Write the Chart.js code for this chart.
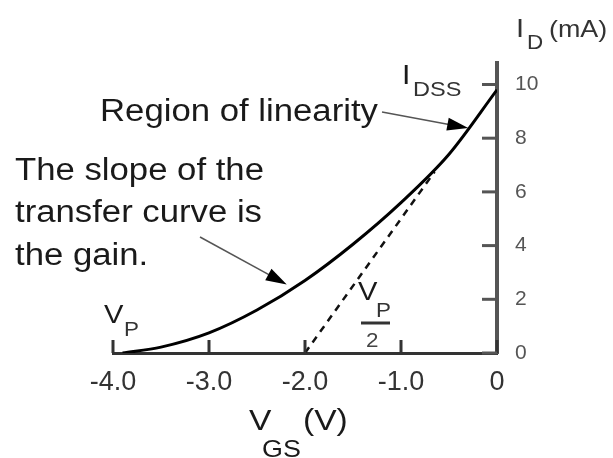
<!DOCTYPE html>
<html>
<head>
<meta charset="utf-8">
<script src="https://cdn.jsdelivr.net/npm/chart.js@4.4.1/dist/chart.umd.min.js"></script>
<style>
  html, body { margin: 0; padding: 0; background: #fff; }
  #wrap { width: 613px; height: 458px; }
</style>
</head>
<body>
<div id="wrap"><canvas id="transfer" width="613" height="458"></canvas></div>
<script>
// transfer curve: gate-source voltage (V) against drain current (mA)
const vgs  = [-3.9, -3.5, -3.0, -2.5, -2.0, -1.5, -1.0, -0.5, 0];
const idMa = [0, 0.22, 0.75, 1.6, 2.7, 4.05, 5.6, 7.4, 9.8];

// dashed tangent starting at VP/2
const tangentV = [-2.0, -0.65];
const tangentI = [0, 6.75];

// axis ticks
const xTicks = [-4, -3, -2, -1, 0];
const xTickLabels = ["-4.0", "-3.0", "-2.0", "-1.0", "0"];
const yTicks = [0, 2, 4, 6, 8, 10];

const FONT = '"Liberation Sans", Arial, Helvetica, sans-serif';
const STRETCH = 1.12;

function text(ctx, str, x, y, size, color) {
    ctx.save();
    ctx.font = size + "px " + FONT;
    ctx.fillStyle = color || "#1a1a1a";
    ctx.textBaseline = "alphabetic";
    ctx.textAlign = "left";
    ctx.translate(x, y);
    ctx.scale(STRETCH, 1);
    ctx.fillText(str, 0, 0);
    ctx.restore();
}

function arrow(ctx, x1, y1, x2, y2) {
    const ang = Math.atan2(y2 - y1, x2 - x1);
    const len = 21, half = 6.5;
    ctx.save();
    ctx.strokeStyle = "#555";
    ctx.lineWidth = 1.5;
    ctx.beginPath();
    ctx.moveTo(x1, y1);
    ctx.lineTo(x2 - Math.cos(ang) * len * 0.8, y2 - Math.sin(ang) * len * 0.8);
    ctx.stroke();
    ctx.fillStyle = "#000";
    ctx.beginPath();
    ctx.moveTo(x2, y2);
    ctx.lineTo(x2 - Math.cos(ang) * len - Math.sin(ang) * half, y2 - Math.sin(ang) * len + Math.cos(ang) * half);
    ctx.lineTo(x2 - Math.cos(ang) * len + Math.sin(ang) * half, y2 - Math.sin(ang) * len - Math.cos(ang) * half);
    ctx.closePath();
    ctx.fill();
    ctx.restore();
}

// inward tick marks plus all the labels around the plot
const decorations = {
    id: "decorations",
    afterDraw(chart) {
        const ctx = chart.ctx;
        const xs = chart.scales.x, ys = chart.scales.y;
        const area = chart.chartArea;

        ctx.save();
        ctx.lineWidth = 3;
        ctx.strokeStyle = "#333";
        xTicks.forEach(v => {
            const px = xs.getPixelForValue(v);
            ctx.beginPath();
            ctx.moveTo(px, area.bottom);
            ctx.lineTo(px, area.bottom - 13);
            ctx.stroke();
        });
        ctx.strokeStyle = "#555";
        yTicks.forEach(v => {
            const py = ys.getPixelForValue(v);
            ctx.beginPath();
            ctx.moveTo(area.right, py);
            ctx.lineTo(area.right - 15, py);
            ctx.stroke();
        });
        ctx.restore();

        // axis titles
        text(ctx, "I", 516, 37, 26, "#333");
        text(ctx, "D", 527, 49, 20, "#333");
        text(ctx, "(mA)", 549, 37, 24, "#333");
        text(ctx, "V", 249, 430, 30);
        text(ctx, "GS", 262, 457, 24);
        text(ctx, "(V)", 303, 430, 30);

        // IDSS and VP markers
        text(ctx, "I", 402, 84, 27);
        text(ctx, "DSS", 413, 96, 21, "#333");
        text(ctx, "V", 104, 323, 26);
        text(ctx, "P", 124, 336, 20, "#333");
        text(ctx, "V", 358, 300, 26);
        text(ctx, "P", 376, 317, 20, "#333");
        ctx.save();
        ctx.strokeStyle = "#333";
        ctx.lineWidth = 3;
        ctx.beginPath();
        ctx.moveTo(361, 323);
        ctx.lineTo(390, 323);
        ctx.stroke();
        ctx.restore();
        text(ctx, "2", 366, 347, 20, "#444");

        // callouts
        text(ctx, "Region of linearity", 100, 121, 31);
        arrow(ctx, 382, 112, xs.getPixelForValue(-0.3), ys.getPixelForValue(8.38));
        text(ctx, "The slope of the", 15, 180, 31);
        text(ctx, "transfer curve is", 15, 222, 31);
        text(ctx, "the gain.", 15, 265, 31);
        arrow(ctx, 200, 237, xs.getPixelForValue(-2.19), ys.getPixelForValue(2.55));
    }
};

new Chart(document.getElementById("transfer"), {
    type: "scatter",
    data: {
        datasets: [
            {
                data: vgs.map((v, i) => ({ x: v, y: idMa[i] })),
                showLine: true,
                borderColor: "#000",
                borderWidth: 3,
                pointRadius: 0,
                cubicInterpolationMode: "monotone"
            },
            {
                data: tangentV.map((v, i) => ({ x: v, y: tangentI[i] })),
                showLine: true,
                borderColor: "#111",
                borderWidth: 2.5,
                borderDash: [7, 6],
                pointRadius: 0
            }
        ]
    },
    options: {
        responsive: false,
        animation: false,
        layout: { padding: { left: 113, top: 63, right: 0, bottom: 0 } },
        plugins: { legend: { display: false }, tooltip: { enabled: false } },
        scales: {
            x: {
                type: "linear",
                position: "bottom",
                min: -4,
                max: 0,
                afterBuildTicks: s => { s.ticks = xTicks.map(v => ({ value: v })); },
                afterFit: s => { s.height = 105; },
                ticks: {
                    padding: 13,
                    color: "#333",
                    font: { family: FONT, size: 27 },
                    callback: (v, i) => xTickLabels[i]
                },
                grid: { drawOnChartArea: false, drawTicks: false },
                border: { color: "#333", width: 3 }
            },
            y: {
                type: "linear",
                position: "right",
                min: 0,
                max: 10.8,
                afterBuildTicks: s => { s.ticks = yTicks.map(v => ({ value: v })); },
                afterFit: s => { s.width = 116; },
                ticks: {
                    padding: 18,
                    color: "#555",
                    font: { family: FONT, size: 21 }
                },
                grid: { drawOnChartArea: false, drawTicks: false },
                border: { color: "#555", width: 4 }
            }
        }
    },
    plugins: [decorations]
});
</script>
</body>
</html>
